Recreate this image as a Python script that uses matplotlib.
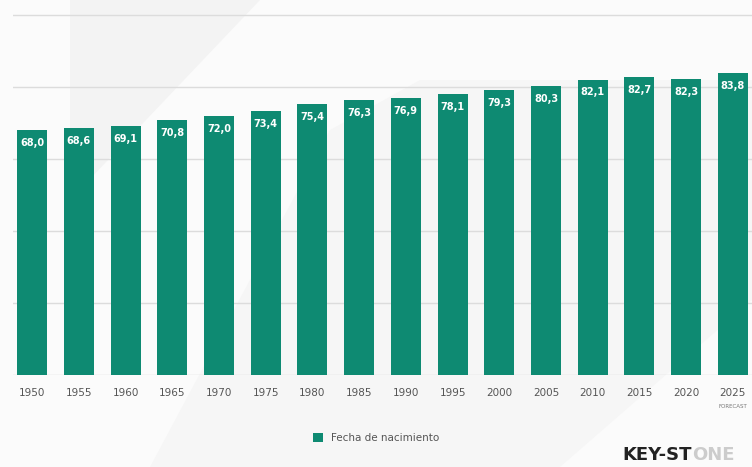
import matplotlib.pyplot as plt
from matplotlib.patches import Polygon

years = ["1950", "1955", "1960", "1965", "1970", "1975", "1980", "1985",
         "1990", "1995", "2000", "2005", "2010", "2015", "2020", "2025"]
values = [68.0, 68.6, 69.1, 70.8, 72.0, 73.4, 75.4, 76.3,
          76.9, 78.1, 79.3, 80.3, 82.1, 82.7, 82.3, 83.8]
legend_label = "Fecha de nacimiento"

teal = "#0e8a72"

fig = plt.figure(figsize=(7.52, 4.67), dpi=100)
fig.patch.set_facecolor("#fbfbfb")

# faint watermark shapes in the background
wm = fig.add_axes([0, 0, 1, 1], zorder=0)
wm.set_xlim(0, 752)
wm.set_ylim(467, 0)
wm.axis("off")
wm.add_patch(Polygon([[70, 0], [260, 0], [70, 200]], closed=True, color="#f3f3f3", lw=0))
wm.add_patch(Polygon([[150, 467], [330, 130], [420, 80], [752, 80], [752, 300],
                      [560, 467]], closed=True, color="#f6f6f6", lw=0))

ax = fig.add_axes([13 / 752, 1 - 375 / 467, 739 / 752, 375 / 467], zorder=1)
ax.patch.set_alpha(0)

x = list(range(len(years)))
ax.bar(x, values, width=0.64, color=teal, zorder=3, label=legend_label)

for xi, v in zip(x, values):
    ax.text(xi, v - 2.2, f"{v:.1f}".replace(".", ","), ha="center", va="top",
            color="white", fontsize=7, fontweight="bold", zorder=4)

ax.set_xlim(-0.41, 15.41)
ax.set_ylim(0, 104.2)
ax.set_yticks([0, 20, 40, 60, 80, 100])
ax.yaxis.grid(True, color="#dcdcdc", lw=1)
ax.set_axisbelow(True)
ax.tick_params(axis="y", left=False, labelleft=False)
ax.tick_params(axis="x", length=0, pad=9, labelsize=7.5, labelcolor="#555555")
ax.set_xticks(x)
ax.set_xticklabels(years)
for s in ax.spines.values():
    s.set_visible(False)

fig.text(733 / 752, 1 - 407 / 467, "FORECAST", fontsize=4, color="#777777", ha="center", va="center")

fig.legend(loc="center", bbox_to_anchor=(0.5, 1 - 438 / 467), frameon=False,
           fontsize=7.5, handlelength=1.0, handleheight=1.0, labelcolor="#555555")

fig.text(692 / 752, 1 - 455 / 467, "KEY-ST", fontsize=13, fontweight="bold",
         color="#222222", ha="right", va="center")
fig.text(692 / 752, 1 - 455 / 467, "ONE", fontsize=13, fontweight="bold",
         color="#cccccc", ha="left", va="center")

fig.savefig("out.png", dpi=100, facecolor=fig.get_facecolor())
